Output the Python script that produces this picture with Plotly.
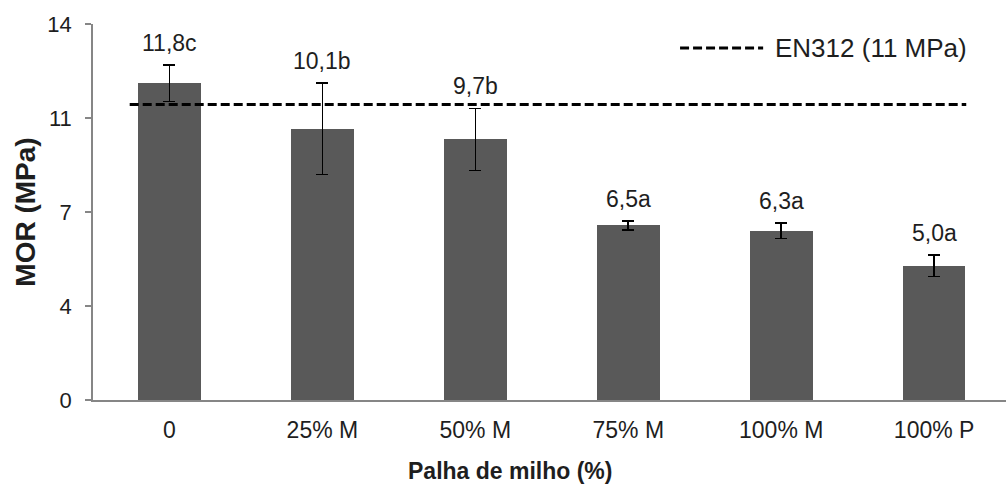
import plotly.graph_objects as go

# MOR by corn-husk content
categories = ["0", "25% M", "50% M", "75% M", "100% M", "100% P"]
mor_values = [11.8, 10.1, 9.7, 6.5, 6.3, 5.0]
mor_errors = [0.68, 1.71, 1.16, 0.17, 0.28, 0.40]
letters = ["c", "b", "b", "a", "a", "a"]
en312_limit = 11
y_tick_values = [0, 3.5, 7, 10.5, 14]
y_tick_labels = ["0", "4", "7", "11", "14"]

FONT = "Liberation Sans, Arial, sans-serif"
TEXT = "#1e1e1e"
AXIS = "#868686"
BAR = "#595959"

fig = go.Figure()

fig.add_trace(go.Bar(
    x=categories,
    y=mor_values,
    width=0.41,
    marker=dict(color=BAR, line=dict(width=0)),
    error_y=dict(type="data", array=mor_errors, visible=True,
                 color="black", thickness=1.6, width=6),
    showlegend=False,
    hoverinfo="skip",
))

# value labels with significance letters above the error bars
for cat, val, err, let in zip(categories, mor_values, mor_errors, letters):
    fig.add_annotation(
        x=cat, y=val + err, xref="x", yref="y",
        text=f"{val:.1f}".replace(".", ",") + let,
        showarrow=False, yanchor="bottom", yshift=7,
        font=dict(family=FONT, size=23, color=TEXT),
    )

# EN312 reference line
fig.add_shape(
    type="line", xref="x", yref="y",
    x0=-0.26, x1=5.21, y0=en312_limit, y1=en312_limit,
    line=dict(color="black", width=3, dash="9px,4px"),
)

# legend key for the reference line
fig.add_shape(
    type="line", xref="paper", yref="paper",
    x0=0.643, x1=0.734, y0=0.936, y1=0.936,
    line=dict(color="black", width=3, dash="9px,4px"),
)
fig.add_annotation(
    xref="paper", yref="paper", x=0.745, y=0.936,
    text=f"EN312 ({en312_limit} MPa)", showarrow=False,
    xanchor="left", yanchor="middle",
    font=dict(family=FONT, size=26, color=TEXT),
)

# x-axis title
fig.add_annotation(
    xref="paper", yref="paper", x=0.457, y=-0.19,
    text="<b>Palha de milho (%)</b>", showarrow=False,
    xanchor="center", yanchor="middle",
    font=dict(family=FONT, size=23, color=TEXT),
)

fig.update_layout(
    width=1006, height=490,
    margin=dict(l=93, r=0, t=24, b=90),
    paper_bgcolor="white", plot_bgcolor="white",
    font=dict(family=FONT, color=TEXT),
    bargap=0,
    xaxis=dict(
        type="category",
        range=[-0.5, 5.47],
        showline=True, linecolor=AXIS, linewidth=1.5,
        ticks="", showgrid=False, zeroline=False,
        tickfont=dict(family=FONT, size=23, color=TEXT),
        ticklabelstandoff=9,
    ),
    yaxis=dict(
        range=[0, 14],
        tickvals=y_tick_values, ticktext=y_tick_labels,
        showline=True, linecolor=AXIS, linewidth=1.5,
        ticks="outside", ticklen=6, tickcolor=AXIS, tickwidth=1.5,
        showgrid=False, zeroline=False,
        tickfont=dict(family=FONT, size=22, color=TEXT),
        ticklabelstandoff=9,
        title=dict(text="<b>MOR (MPa)</b>",
                   font=dict(family=FONT, size=28, color=TEXT), standoff=4),
    ),
)

fig.write_html("out.html")
